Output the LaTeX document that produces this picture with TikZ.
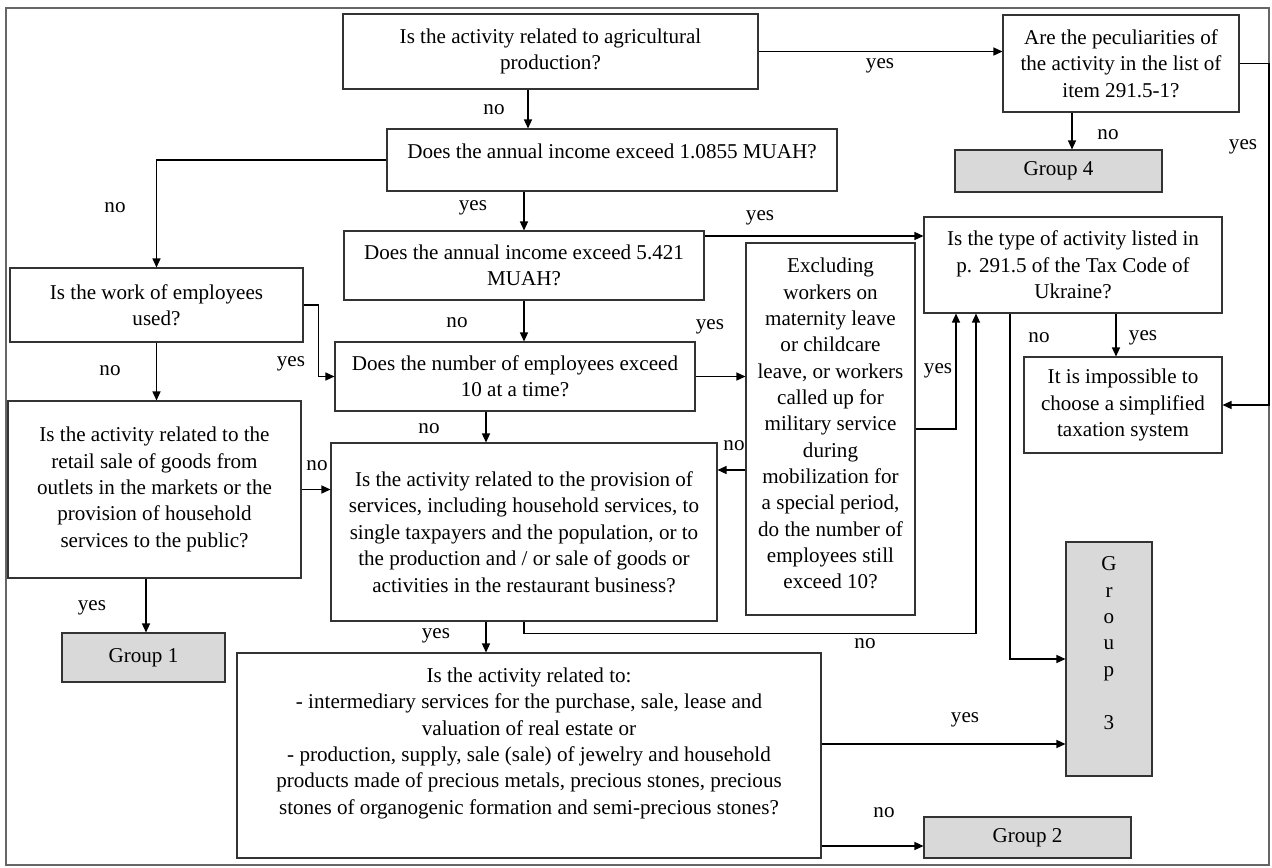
\documentclass[tikz,border=0pt]{standalone}
\usepackage{fontspec}
\setmainfont{Liberation Serif}
\usetikzlibrary{arrows.meta,positioning}

\begin{document}
\begin{tikzpicture}[
  x=0.2mm, y=-0.2mm,
  font=\fontsize{12}{15}\selectfont,
  box/.style={draw=black!80, line width=0.6pt, align=center, inner sep=2pt},
  grp/.style={box, fill=black!15},
  arr/.style={-{Triangle[length=1.8mm,width=1.6mm]}, line width=0.7pt},
  lbl/.style={inner sep=0pt}
]
\useasboundingbox (0,0) rectangle (1272,867);
\draw[black!60, line width=0.8pt] (6,8) rectangle (1269,865);

% questions
\node[box, minimum width=83mm, minimum height=15mm] (agri) at (550.5,51.5) {Is the activity related to agricultural\\production?};
\node[box, minimum width=47.2mm, minimum height=19.4mm] (pecul) at (1121,63.5) {Are the peculiarities of\\the activity in the list of\\item 291.5-1?};
\node[box, minimum width=90mm, minimum height=12.4mm, text depth=3.4mm] (inc1) at (612,160) {Does the annual income exceed 1.0855 MUAH?};
\node[box, minimum width=72mm, minimum height=13.8mm] (inc2) at (524,265.5) {Does the annual income exceed 5.421\\MUAH?};
\node[box, minimum width=58.6mm, minimum height=14.8mm] (empl) at (156.5,305) {Is the work of employees\\used?};
\node[box, minimum width=72mm, minimum height=13.8mm] (numb) at (515,376.5) {Does the number of employees exceed\\10 at a time?};
\node[box, minimum width=33.8mm, minimum height=74.4mm, text depth=2.2mm] (excl) at (830.5,429) {Excluding\\workers on\\maternity leave\\or childcare\\leave, or workers\\called up for\\military service\\during\\mobilization for\\a special period,\\do the number of\\employees still\\exceed 10?};
\node[box, minimum width=59.6mm, minimum height=19.2mm] (type) at (1073,265) {Is the type of activity listed in\\p. 291.5 of the Tax Code of\\Ukraine?};
\node[box, minimum width=39.6mm, minimum height=19.2mm] (imposs) at (1123,405) {It is impossible to\\choose a simplified\\taxation system};
\node[box, minimum width=58.6mm, minimum height=35.4mm] (retail) at (154.5,489.5) {Is the activity related to the\\retail sale of goods from\\outlets in the markets or the\\provision of household\\services to the public?};
\node[box, minimum width=77.2mm, minimum height=35.6mm] (serv) at (524,532) {Is the activity related to the provision of\\services, including household services, to\\single taxpayers and the population, or to\\the production and / or sale of goods or\\activities in the restaurant business?};
\node[box, minimum width=116.8mm, minimum height=41mm, text depth=5.8mm] (jewel) at (529,755.5) {Is the activity related to:\\- intermediary services for the purchase, sale, lease and\\valuation of real estate or\\- production, supply, sale (sale) of jewelry and household\\products made of precious metals, precious stones, precious\\stones of organogenic formation and semi-precious stones?};

% groups
\node[grp, minimum width=32.6mm, minimum height=9.8mm] (grp1) at (143.5,657.5) {Group 1};
\node[grp, minimum width=41.4mm, minimum height=8.2mm] (grp2) at (1027.5,837.5) {Group 2};
\node[grp, minimum width=17.2mm, minimum height=46.8mm, text depth=6.4mm] (grp3) at (1109,659) {G\\r\\o\\u\\p\\~\\3};
\node[grp, minimum width=41.4mm, minimum height=8.4mm] (grp4) at (1058.5,171) {Group 4};

\coordinate (rt) at (1269,63.5);

% connectors
\draw[arr] (agri.east) -- (agri.east -| pecul.west);
\draw[arr] (pecul.east) -- (rt) |- (imposs.east);
\draw[arr] ([xshift=-9.8mm]pecul.south) -- ([xshift=-9.8mm]pecul.south |- grp4.north);
\draw[arr] ([xshift=-4.5mm]agri.south) -- ([xshift=-4.5mm]agri.south |- inc1.north);
\draw[arr] (inc1.west) -| (empl.north);
\draw[arr] (inc2.north |- inc1.south) -- (inc2.north);
\draw[arr] ([yshift=5.9mm]inc2.east) -- ([yshift=5.9mm]inc2.east -| type.west);
\draw[arr] (empl.east) -- ++(3mm,0) |- (numb.west);
\draw[arr] (empl.south) -- (empl.south |- retail.north);
\draw[arr] (inc2.south) -- (inc2.south |- numb.north);
\draw[arr] ([xshift=-5.8mm]numb.south) -- ([xshift=-5.8mm]numb.south |- serv.north);
\draw[arr] (numb.east) -- (numb.east -| excl.west);
\draw[arr] (retail.east) -- (retail.east -| serv.west);
\draw[arr] ([yshift=-8.2mm]excl.west) -- ([yshift=-8.2mm]excl.west -| serv.east);
\draw[arr] (excl.east) -| ([xshift=-23.4mm]type.south);
\draw[arr] (serv.south) -- ++(0,-2.4mm) -| ([xshift=-19.4mm]type.south);
\draw[arr] ([xshift=-12.6mm]type.south) |- (grp3.west);
\draw[arr] ([xshift=8.6mm]type.south) -- ([xshift=8.6mm]type.south |- imposs.north);
\draw[arr] ([xshift=-1.7mm]retail.south) -- ([xshift=-1.7mm]retail.south |- grp1.north);
\draw[arr] ([xshift=-7.6mm]serv.south) -- ([xshift=-7.6mm]serv.south |- jewel.north);
\draw[arr] ([yshift=2.3mm]jewel.east) -- ([yshift=2.3mm]jewel.east -| grp3.west);
\draw[arr] ([yshift=-18.1mm]jewel.east) -- ([yshift=-18.1mm]jewel.east -| grp2.west);

% labels
\node[lbl] (y1) at (880,66) {yes};
\node[lbl] (y2) at (1243,147) {yes};
\node[lbl] (n1) at (1108,135) {no};
\node[lbl] (n2) at (494,110) {no};
\node[lbl] (n3) at (115,208) {no};
\node[lbl] (y3) at (473,208) {yes};
\node[lbl] (y4) at (760,218) {yes};
\node[lbl] (y5) at (291,364) {yes};
\node[lbl] (n4) at (110,371) {no};
\node[lbl] (n5) at (457,323) {no};
\node[lbl] (n6) at (429,429) {no};
\node[lbl] (y6) at (710,327) {yes};
\node[lbl] (n7) at (317,466) {no};
\node[lbl] (n8) at (734,446) {no};
\node[lbl] (y7) at (938,371) {yes};
\node[lbl] (n9) at (865,644) {no};
\node[lbl] (n10) at (1039,338) {no};
\node[lbl] (y8) at (1143,338) {yes};
\node[lbl] (y9) at (92,608) {yes};
\node[lbl] (y10) at (436,636) {yes};
\node[lbl] (y11) at (965,720) {yes};
\node[lbl] (n11) at (884,813) {no};
\end{tikzpicture}
\end{document}
